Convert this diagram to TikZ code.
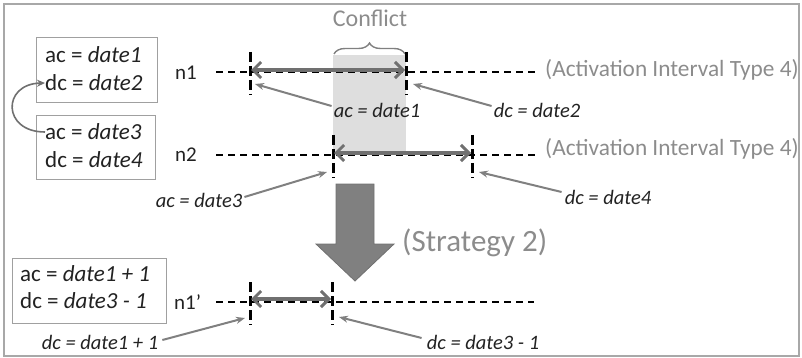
\documentclass[tikz,border=0pt]{standalone}
\usepackage{fontspec}
\setmainfont{Carlito}
\usetikzlibrary{arrows.meta,decorations.pathreplacing,calc}
\definecolor{framegray}{HTML}{A8A8A8}
\definecolor{boxgray}{HTML}{A0A0A0}
\definecolor{notegray}{HTML}{808080}
\definecolor{spangray}{HTML}{707070}
\definecolor{softgray}{HTML}{8C8C8C}
\definecolor{conflictfill}{HTML}{DEDEDE}
\definecolor{inkgray}{HTML}{222222}
\begin{document}
\begin{tikzpicture}[x=1pt,y=-1pt,
  valbox/.style={draw=boxgray, line width=1pt, fill=none},
  boxline/.style={anchor=west, inner sep=0pt, text=inkgray, font=\fontsize{23}{27}\selectfont},
  rowname/.style={anchor=west, inner sep=0pt, text=inkgray, font=\fontsize{21}{25}\selectfont},
  notelbl/.style={inner sep=0pt, text=inkgray, font=\fontsize{20.5}{24}\selectfont\itshape},
  softlbl/.style={anchor=west, inner sep=0pt, text=softgray},
  timeline/.style={draw=black, line width=1.6pt, dash pattern=on 7pt off 5pt},
  tick/.style={draw=black, line width=3pt, dash pattern=on 10pt off 4pt},
  span/.style={draw=spangray, line width=3.5pt,
    {Straight Barb[length=8pt,width=16pt,line width=3pt]}-{Straight Barb[length=8pt,width=16pt,line width=3pt]}},
  pointer/.style={draw=notegray, line width=2pt, -{Stealth[length=9pt,width=7pt]}},
]
\useasboundingbox (0,0) rectangle (802,358);
\draw[framegray, line width=1.5pt] (4,4) rectangle (799,356);

% conflict region and its brace
\fill[conflictfill] (333,55) rectangle (406,152);
\coordinate (brL) at (334,54);
\coordinate (brR) at (405,54);
\draw[notegray, line width=1.4pt, decoration={brace, amplitude=11pt, aspect=0.5}, decorate] (brL) -- (brR);
\node[inner sep=0pt, text=softgray, font=\fontsize{24}{28}\selectfont] (conf) at (370,18) {Conflict};

% value boxes
\node[valbox, minimum width=121pt, minimum height=65pt, anchor=north west] (box1) at (36,37) {};
\node[boxline] (b1a) at (45,55) {ac = \textit{date1}};
\node[boxline] (b1b) at (45,83) {dc = \textit{date2}};
\node[valbox, minimum width=119pt, minimum height=64pt, anchor=north west] (box2) at (36,115) {};
\node[boxline] (b2a) at (45,132) {ac = \textit{date3}};
\node[boxline] (b2b) at (45,160) {dc = \textit{date4}};
\node[valbox, minimum width=154pt, minimum height=65pt, anchor=north west] (box3) at (12,258) {};
\node[boxline] (b3a) at (20,274) {ac = \textit{date1 + 1}};
\node[boxline] (b3b) at (20,301) {dc = \textit{date3 - 1}};

\draw[draw=spangray, line width=1.6pt, -{Stealth[length=8pt,width=7pt]}]
  (b2a.west) .. controls (2,132) and (2,84) .. (b1b.west);

% row names
\node[rowname] (n1) at (175,73) {n1};
\node[rowname] (n2) at (175,155) {n2};
\node[rowname] (n1p) at (174,302) {n1’};

% timelines
\coordinate (t1s) at (216,72);  \coordinate (t1e) at (536,72);
\coordinate (t2s) at (216,155); \coordinate (t2e) at (536,155);
\coordinate (t3s) at (216,302); \coordinate (t3e) at (534,302);
\draw[timeline] (t1s) -- (t1e);
\draw[timeline] (t2s) -- (t2e);
\draw[timeline] (t3s) -- (t3e);

% interval bounds
\coordinate (a1t) at (250,52);  \coordinate (a1b) at (250,95);
\coordinate (d1t) at (406,52);  \coordinate (d1b) at (406,95);
\coordinate (a2t) at (333,135); \coordinate (a2b) at (333,178);
\coordinate (d2t) at (472,135); \coordinate (d2b) at (472,178);
\coordinate (a3t) at (250,282); \coordinate (a3b) at (250,325);
\coordinate (d3t) at (332,282); \coordinate (d3b) at (332,325);
\foreach \p in {a1,d1,a2,d2,a3,d3} \draw[tick] (\p t) -- (\p b);

% interval spans
\coordinate (s1a) at (251,70);  \coordinate (s1d) at (405,70);
\coordinate (s2a) at (334,153); \coordinate (s2d) at (471,153);
\coordinate (s3a) at (251,299); \coordinate (s3d) at (331,299);
\draw[span] (s1a) -- (s1d);
\draw[span] (s2a) -- (s2d);
\draw[span] (s3a) -- (s3d);

% interval type notes
\node[softlbl, font=\fontsize{23.3}{27}\selectfont] (type1) at (545,70) {(Activation Interval Type 4)};
\node[softlbl, font=\fontsize{23.3}{27}\selectfont] (type2) at (545,149) {(Activation Interval Type 4)};

% bound labels and pointers
\node[notelbl] (la1) at (377,110) {ac = date1};
\node[notelbl] (ld1) at (537,110) {dc = date2};
\node[notelbl] (la2) at (199,200) {ac = date3};
\node[notelbl] (ld2) at (608,197) {dc = date4};
\node[notelbl] (la3) at (100,342) {dc = date1 + 1};
\node[notelbl] (ld3) at (483,342) {dc = date3 - 1};
\coordinate (pa1) at (255,84);  \coordinate (pd1) at (413,84);
\coordinate (pa2) at (327,172); \coordinate (pd2) at (479,172);
\coordinate (pa3) at (245,318); \coordinate (pd3) at (339,317);
\draw[pointer] ($(la1.west)+(-2,-4)$) -- (pa1);
\draw[pointer] ($(ld1.west)+(-2,-4)$) -- (pd1);
\draw[pointer] ($(la2.east)+(2,-3)$) -- (pa2);
\draw[pointer] ($(ld2.west)+(-3,-5)$) -- (pd2);
\draw[pointer] ($(la3.east)+(4,-2)$) -- (pa3);
\draw[pointer] ($(ld3.west)+(-5,-4)$) -- (pd3);

% strategy arrow
\filldraw[fill=notegray, draw=spangray, line width=0.8pt]
  (336,184) -- (374,184) -- (374,244) -- (394,244) -- (355,281)
  -- (316,244) -- (336,244) -- cycle;
\coordinate (stratTip) at (355,281);
\node[softlbl, font=\fontsize{31}{36}\selectfont] (strat) at (402,243) {(Strategy 2)};
\end{tikzpicture}
\end{document}
